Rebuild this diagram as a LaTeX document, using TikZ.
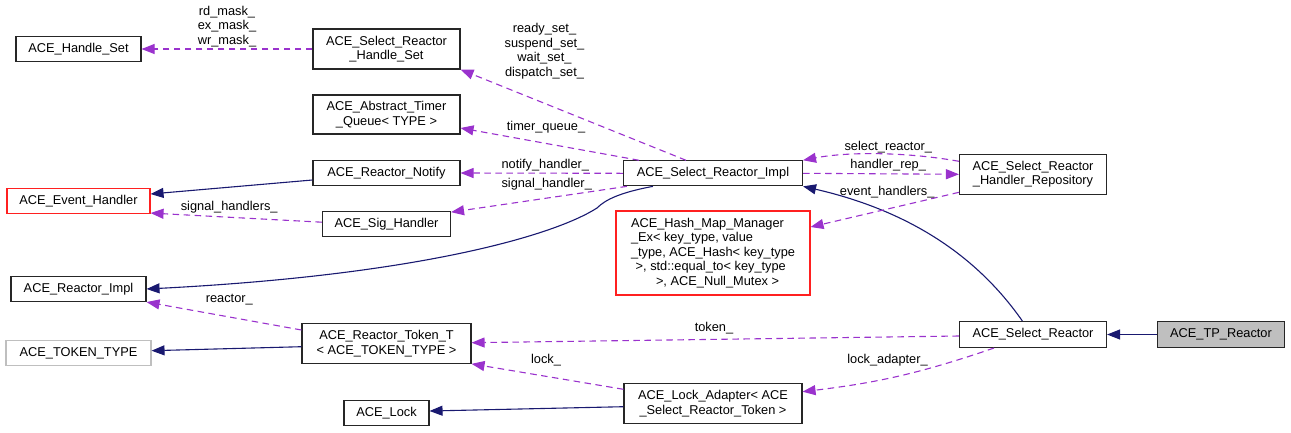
\documentclass[tikz,border=0pt]{standalone}
\usepackage{fontspec}
\setmainfont{Liberation Sans}
\usetikzlibrary{arrows.meta,calc}
\definecolor{edgepurple}{HTML}{9A32CD}
\definecolor{edgenavy}{HTML}{191970}
\definecolor{boxred}{HTML}{FF2020}
\definecolor{boxgray}{HTML}{BFBFBF}
\begin{document}
\begin{tikzpicture}[x=1pt,y=-1pt,
  every node/.style={font=\fontsize{12.8}{14.5}\selectfont, inner sep=0pt},
  cls/.style={draw=black!85, line width=1.1pt, fill=white, align=center, minimum height=#1},
  cls/.default=25pt,
  redcls/.style={cls=#1, draw=boxred},
  redcls/.default=25pt,
  graycls/.style={cls, draw=boxgray},
  usage/.style={draw=edgepurple, line width=1.1pt, dash pattern=on 6.5pt off 4.5pt,
    -{Triangle[length=13pt,width=10pt,fill=edgepurple,color=edgepurple]}},
  inherit/.style={draw=edgenavy, line width=1.1pt,
    -{Triangle[length=13pt,width=10pt,fill=edgenavy,color=edgenavy]}},
  lbl/.style={align=center}
]
\path[use as bounding box] (0,0) rectangle (1291,432);

% nodes
\node[cls, minimum width=125pt] (hs) at (78.5,49) {ACE\_Handle\_Set};
\node[cls=40pt, minimum width=147pt] (srhs) at (386.5,49) {ACE\_Select\_Reactor\\\_Handle\_Set};
\node[cls=39pt, minimum width=147pt] (atq) at (386.5,114.5) {ACE\_Abstract\_Timer\\\_Queue< TYPE >};
\node[cls, minimum width=147pt] (rn) at (386.5,173) {ACE\_Reactor\_Notify};
\node[redcls, minimum width=143pt] (eh) at (78.5,201) {ACE\_Event\_Handler};
\node[cls, minimum width=128pt] (sig) at (386.5,223.7) {ACE\_Sig\_Handler};
\node[cls, minimum width=135pt] (ri) at (78.5,289) {ACE\_Reactor\_Impl};
\node[graycls, minimum width=145pt] (tt) at (78.5,353) {ACE\_TOKEN\_TYPE};
\node[cls=40pt, minimum width=169pt] (rtt) at (386.5,343.7) {ACE\_Reactor\_Token\_T\\< ACE\_TOKEN\_TYPE >};
\node[cls, minimum width=85pt] (lock) at (386.5,413) {ACE\_Lock};
\node[cls, minimum width=179pt] (impl) at (713,173.3) {ACE\_Select\_Reactor\_Impl};
\node[redcls=84pt, minimum width=194pt, align=left] (hash) at (713,253)
  {ACE\_Hash\_Map\_Manager\\\_Ex< key\_type, value\\\_type, ACE\_Hash< key\_type\\\hspace*{4.7pt}>, std::equal\_to< key\_type\\\hspace*{25pt}>, ACE\_Null\_Mutex >};
\node[cls=40pt, minimum width=178pt] (la) at (713,403.7) {ACE\_Lock\_Adapter< ACE\\\_Select\_Reactor\_Token >};
\node[cls=40pt, minimum width=147pt] (repo) at (1033,174.3) {ACE\_Select\_Reactor\\\_Handler\_Repository};
\node[cls=26pt, minimum width=147pt] (sr) at (1033,334.5) {ACE\_Select\_Reactor};
\node[cls=26pt, minimum width=127pt, fill=boxgray] (tp) at (1221,334.5) {ACE\_TP\_Reactor};

% edges
\draw[usage] (srhs.west) -- (hs.east);
\draw[usage] ($(impl.north west)+(63,0)$) -- (srhs.south east);
\draw[usage] ($(impl.north west)+(16,0)$) -- ($(atq.east)+(0,13.5)$);
\draw[usage] (impl.west) -- (rn.east);
\draw[usage] ($(impl.south west)+(4,0)$) -- ($(sig.north east)+(0,1.5)$);
\draw[inherit] ($(rn.west)+(0,7)$) -- ($(eh.east)+(0,-7)$);
\draw[usage] ($(sig.west)+(0,-1.5)$) -- ($(eh.south east)+(0,-1)$);
\draw[inherit] ($(impl.south west)+(30,0)$) .. controls +(-33.7,6.3) and +(8,-8) .. (597,208)
  .. controls +(-42,27) and +(274,-14) .. (ri.east);
\draw[inherit] ($(sr.north west)+(63.4,0)$) .. controls +(-32.7,-46.7) and +(127.7,29.3) .. (impl.south east);
\draw[inherit] (tp.west) -- (sr.east);
\draw[usage] ($(repo.west)+(0,-13)$) .. controls +(-50,-9) and +(47,-9) .. (impl.north east);
\draw[usage] (impl.east) -- (repo.west);
\draw[usage] ($(repo.west)+(0,18)$) -- ($(hash.east)+(0,-26)$);
\draw[usage] ($(sr.west)+(0,1.5)$) -- ($(rtt.east)+(0,-1)$);
\draw[usage] ($(sr.south west)+(35,0)$) to[bend left=6] ($(la.east)+(0,-12)$);
\draw[usage] ($(la.west)+(0,-14.4)$) -- ($(rtt.south east)+(0,-0.4)$);
\draw[usage] ($(rtt.west)+(0,-13.7)$) -- (ri.south east);
\draw[inherit] ($(rtt.west)+(0,3)$) -- ($(tt.east)+(0,-2.3)$);
\draw[inherit] ($(la.west)+(0,3)$) -- ($(lock.east)+(0,-2)$);

% labels
\node[lbl] (l1) at (227,26.2) {rd\_mask\_\\ex\_mask\_\\wr\_mask\_};
\node[lbl] (l2) at (544.5,51) {ready\_set\_\\suspend\_set\_\\wait\_set\_\\dispatch\_set\_};
\node[lbl] (l3) at (546,126.7) {timer\_queue\_};
\node[lbl] (l4) at (545.3,164.7) {notify\_handler\_};
\node[lbl] (l5) at (546.7,184) {signal\_handler\_};
\node[lbl] (l6) at (229.2,206.7) {signal\_handlers\_};
\node[lbl] (l7) at (888.3,147.3) {select\_reactor\_};
\node[lbl] (l8) at (888.2,165) {handler\_rep\_};
\node[lbl] (l9) at (887.2,191.7) {event\_handlers\_};
\node[lbl] (l10) at (714,328) {token\_};
\node[lbl] (l11) at (546,360) {lock\_};
\node[lbl] (l12) at (887.5,360) {lock\_adapter\_};
\node[lbl] (l13) at (229.3,300) {reactor\_};
\end{tikzpicture}
\end{document}
